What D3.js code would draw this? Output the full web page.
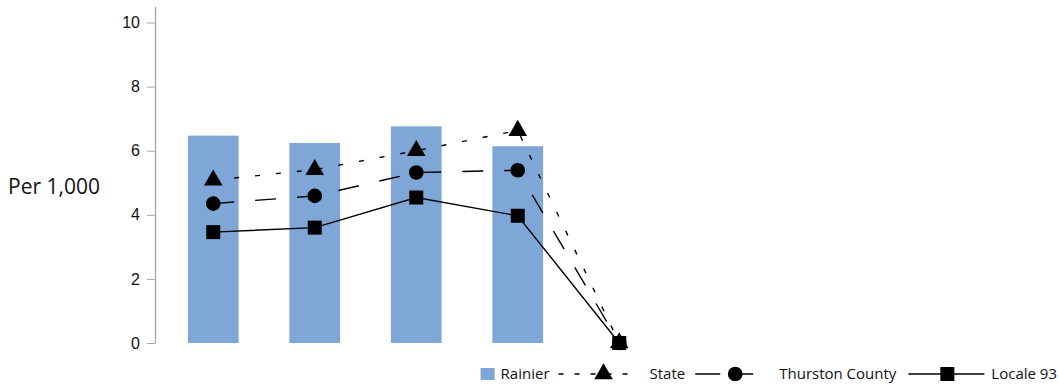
<!DOCTYPE html>
<html>
<head>
<meta charset="utf-8">
<script src="https://cdn.jsdelivr.net/npm/d3@7"></script>
<style>
  body { margin: 0; background: #fff; }
  svg { display: block; font-family: "Open Sans", "Noto Sans", sans-serif; }
  .axis path, .axis line { stroke: #a6a6a6; }
  .axis text { font-size: 16px; fill: #111; }
  .legend text { font-size: 15px; fill: #111; }
</style>
</head>
<body>
<div id="chart"></div>
<script>
// data
const categories = ['1', '2', '3', '4', '5'];
const rainier = [6.47, 6.24, 6.76, 6.14, 0];
const state = [5.08, 5.41, 6.0, 6.63, 0];
const thurston = [4.35, 4.59, 5.32, 5.39, 0];
const locale93 = [3.46, 3.6, 4.54, 3.97, 0];
const yTicks = [0, 2, 4, 6, 8, 10];
const yLabel = 'Per 1,000';

const width = 1058;
const height = 386;
const barColor = '#7ea7d8';

const lineSeries = [
  { name: 'State', values: state, dash: '5,16', legendDash: '5,11', symbol: d3.symbolTriangle, size: 150 },
  { name: 'Thurston County', values: thurston, dash: '21,21', legendDash: '25,8', symbol: d3.symbolCircle, size: 170 },
  { name: 'Locale 93', values: locale93, dash: null, legendDash: null, symbol: d3.symbolSquare, size: 196 }
];

const $svg = d3.select('#chart').append('svg')
  .attr('width', width)
  .attr('height', height);

// scales
const scaleX = d3.scaleBand()
  .domain(categories)
  .range([162.5, 670])
  .paddingInner(0.5)
  .paddingOuter(0.25);

const scaleY = d3.scaleLinear()
  .domain([0, 10.5])
  .range([343, 6.5]);

const cx = d => scaleX(d) + scaleX.bandwidth() / 2;

// y axis
const $axis = $svg.append('g')
  .attr('class', 'axis')
  .attr('transform', 'translate(155,0)')
  .call(d3.axisLeft(scaleY).tickValues(yTicks).tickSize(8).tickSizeOuter(0).tickPadding(7));
$axis.select('.domain').attr('stroke-width', 1.3);

$svg.append('text')
  .attr('x', 8)
  .attr('y', 194)
  .attr('font-size', 21)
  .attr('fill', '#111')
  .text(yLabel);

// bars
$svg.append('g')
  .selectAll('rect')
  .data(categories)
  .join('rect')
  .attr('x', d => scaleX(d))
  .attr('width', scaleX.bandwidth())
  .attr('y', (d, i) => scaleY(rainier[i]))
  .attr('height', (d, i) => scaleY(0) - scaleY(rainier[i]))
  .attr('fill', barColor);

// lines + markers
const line = d3.line()
  .x((d, i) => cx(categories[i]))
  .y(d => scaleY(d));

lineSeries.forEach(s => {
  $svg.append('path')
    .datum(s.values)
    .attr('d', line)
    .attr('fill', 'none')
    .attr('stroke', '#000')
    .attr('stroke-width', 1.4)
    .attr('stroke-dasharray', s.dash);
});

lineSeries.forEach(s => {
  $svg.append('g')
    .selectAll('path')
    .data(s.values)
    .join('path')
    .attr('transform', (d, i) => `translate(${cx(categories[i])},${scaleY(d)})`)
    .attr('d', d3.symbol().type(s.symbol).size(s.size))
    .attr('fill', '#000');
});

// legend
const legendItems = [
  { name: 'Rainier', swatch: true, w: 14, gapText: 6, gapAfter: 9 },
  { name: 'State', series: lineSeries[0], w: 78, mark: 45, gapText: 13, gapAfter: 10 },
  { name: 'Thurston County', series: lineSeries[1], w: 65, mark: 40, gapText: 19, gapAfter: 12 },
  { name: 'Locale 93', series: lineSeries[2], w: 76, mark: 39, gapText: 7, gapAfter: 0 }
];

const $legend = $svg.append('g').attr('class', 'legend');
const legendY = 374;
let lx = 0;
legendItems.forEach(item => {
  const $g = $legend.append('g').attr('transform', `translate(${lx},0)`);
  if (item.swatch) {
    $g.append('rect')
      .attr('x', 0).attr('y', legendY - 6)
      .attr('width', 14).attr('height', 12)
      .attr('fill', barColor);
  } else {
    $g.append('line')
      .attr('x1', 0).attr('x2', item.w)
      .attr('y1', legendY).attr('y2', legendY)
      .attr('stroke', '#000')
      .attr('stroke-width', 1.4)
      .attr('stroke-dasharray', item.series.legendDash);
    $g.append('path')
      .attr('transform', `translate(${item.mark},${legendY})`)
      .attr('d', d3.symbol().type(item.series.symbol).size(item.series.size))
      .attr('fill', '#000');
  }
  const $t = $g.append('text')
    .attr('x', item.w + item.gapText)
    .attr('y', legendY + 5)
    .text(item.name);
  lx += item.w + item.gapText + $t.node().getComputedTextLength() + item.gapAfter;
});
$legend.attr('transform', `translate(${1057 - lx},0)`);
</script>
</body>
</html>
